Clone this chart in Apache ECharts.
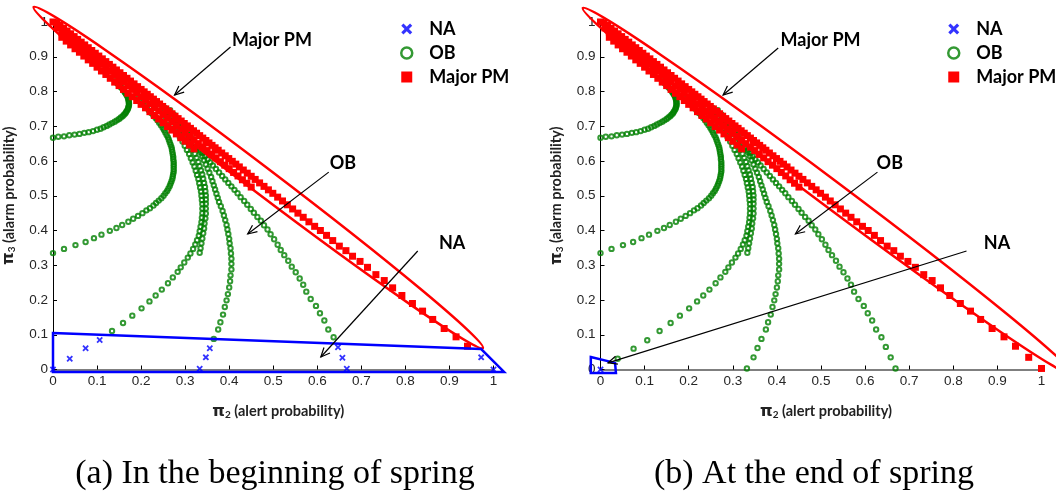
<!DOCTYPE html>
<html><head><meta charset="utf-8">
<script src="https://cdn.jsdelivr.net/npm/echarts@6/dist/echarts.min.js"></script>
<style>html,body{margin:0;padding:0;background:#fff}#c{width:1056px;height:496px}</style>
</head><body><div id="c"></div>
<script>
// ---------------- data ----------------
const captions = ['(a) In the beginning of spring', '(b) At the end of spring'];
const seriesNames = ['NA', 'OB', 'Major PM'];

// NA points
const naA = [[0,1],[0,0],[0.038,0.031],[0.074,0.061],[0.106,0.085],[0.333,0.002],[0.347,0.035],[0.356,0.061],
  [0.647,0.064],[0.657,0.034],[0.667,0.002],[0.972,0.035],[1.0,0.0]];
const naB = [[0,1],[0,0]];

// OB trajectories (shared by both panels)
const ob1 = [[0,0.667],[0.012,0.670],[0.025,0.671],[0.037,0.674],[0.049,0.676],[0.060,0.678],[0.071,0.681],[0.081,0.683],
  [0.091,0.686],[0.100,0.690],[0.108,0.693],[0.115,0.697],[0.122,0.701],[0.128,0.705],[0.134,0.709],[0.140,0.713],
  [0.145,0.717],[0.150,0.721],[0.154,0.725],[0.158,0.729],[0.161,0.733],[0.164,0.737],[0.166,0.741],[0.168,0.745],
  [0.170,0.750],[0.171,0.754],[0.172,0.758],[0.1725,0.762],[0.1725,0.766],[0.172,0.770],[0.172,0.774],[0.171,0.778],
  [0.170,0.782],[0.169,0.786],[0.167,0.790],[0.165,0.794],[0.163,0.798],[0.161,0.802],[0.159,0.806],[0.156,0.810],
  [0.153,0.814],[0.150,0.818],[0.147,0.822],[0.144,0.826],[0.141,0.830]];
const ob2 = [[0,0.335],[0.025,0.347],[0.051,0.358],[0.074,0.367],[0.093,0.378],[0.110,0.388],[0.129,0.399],[0.144,0.407],
  [0.157,0.416],[0.171,0.425],[0.182,0.434],[0.193,0.442],[0.203,0.450],[0.212,0.458],[0.220,0.464],[0.228,0.472],
  [0.234,0.479],[0.240,0.486],[0.246,0.493],[0.251,0.500],[0.255,0.507],[0.259,0.514],[0.262,0.521],[0.265,0.528],
  [0.267,0.535],[0.269,0.542],[0.271,0.549],[0.272,0.556],[0.273,0.563],[0.274,0.570],[0.274,0.577],[0.274,0.584],
  [0.274,0.591],[0.274,0.598],[0.273,0.605],[0.273,0.612],[0.272,0.619],[0.271,0.626],[0.270,0.633],[0.269,0.640],
  [0.267,0.647],[0.265,0.654],[0.263,0.661],[0.261,0.668],[0.258,0.675],[0.255,0.682],[0.252,0.689],[0.249,0.696],
  [0.245,0.703],[0.241,0.710],[0.237,0.717],[0.233,0.724],[0.228,0.731],[0.223,0.738],[0.218,0.745],[0.213,0.752],
  [0.208,0.759],[0.203,0.766],[0.198,0.773],[0.193,0.780]];
const ob3 = [[0.134,0.111],[0.159,0.134],[0.180,0.155],[0.201,0.176],[0.219,0.196],[0.233,0.213],[0.247,0.230],
  [0.261,0.248],[0.272,0.265],[0.283,0.281],[0.290,0.294],[0.298,0.308],[0.306,0.322],[0.312,0.334],[0.318,0.347],
  [0.323,0.360],[0.327,0.372],[0.331,0.385],[0.333,0.398],[0.335,0.411],[0.337,0.424],[0.338,0.437],[0.339,0.450],
  [0.339,0.463],[0.339,0.476],[0.338,0.488],[0.337,0.500],[0.336,0.512],[0.334,0.524],[0.332,0.536],[0.330,0.548],
  [0.327,0.560],[0.324,0.572],[0.321,0.584],[0.317,0.596],[0.313,0.608],[0.309,0.620],[0.304,0.632],[0.299,0.644],
  [0.294,0.656],[0.288,0.668],[0.282,0.680],[0.276,0.692],[0.269,0.704],[0.262,0.716],[0.255,0.728],[0.248,0.740],
  [0.241,0.752],[0.234,0.764]];
const ob4 = [[0.333,0.336],[0.335,0.349],[0.337,0.363],[0.339,0.377],[0.341,0.392],[0.343,0.406],[0.344,0.420],
  [0.346,0.435],[0.347,0.449],[0.347,0.463],[0.347,0.477],[0.347,0.489],[0.347,0.501],[0.346,0.513],[0.345,0.525],
  [0.343,0.537],[0.341,0.549],[0.339,0.561],[0.336,0.573],[0.333,0.585],[0.330,0.597],[0.326,0.609],[0.322,0.621],
  [0.317,0.633],[0.312,0.645],[0.307,0.657],[0.301,0.669],[0.295,0.681],[0.289,0.693],[0.282,0.705],[0.275,0.717],
  [0.268,0.729],[0.261,0.741],[0.254,0.753]];
const ob5 = [[0.365,0.088],[0.375,0.115],[0.380,0.136],[0.386,0.158],[0.390,0.180],[0.394,0.199],[0.397,0.217],
  [0.400,0.236],[0.402,0.254],[0.403,0.271],[0.405,0.288],[0.405,0.304],[0.405,0.319],[0.404,0.334],[0.403,0.349],
  [0.401,0.363],[0.400,0.376],[0.398,0.390],[0.396,0.403],[0.394,0.416],[0.391,0.430],[0.388,0.443],[0.385,0.456],
  [0.381,0.470],[0.377,0.482],[0.374,0.494],[0.371,0.506],[0.368,0.518],[0.365,0.530],[0.362,0.542],[0.359,0.554],
  [0.355,0.566],[0.351,0.578],[0.347,0.590],[0.343,0.602],[0.339,0.614],[0.334,0.626],[0.329,0.638],[0.324,0.650],
  [0.318,0.662],[0.312,0.674],[0.305,0.686],[0.298,0.698],[0.290,0.710],[0.282,0.722],[0.274,0.734],[0.266,0.746]];
const ob6 = [[0.637,0.093],[0.625,0.115],[0.616,0.141],[0.606,0.162],[0.597,0.183],[0.585,0.203],[0.575,0.224],
  [0.568,0.244],[0.560,0.262],[0.551,0.280],[0.542,0.296],[0.534,0.313],[0.525,0.329],[0.517,0.344],[0.510,0.359],
  [0.502,0.375],[0.494,0.389],[0.487,0.403],[0.479,0.415],[0.472,0.428],[0.464,0.439],[0.456,0.451],[0.449,0.462],
  [0.441,0.474],[0.434,0.485],[0.426,0.496],[0.419,0.507],[0.412,0.517],[0.405,0.527],[0.398,0.537],[0.391,0.547],
  [0.384,0.557],[0.377,0.567],[0.370,0.577],[0.363,0.587],[0.357,0.596],[0.351,0.605],[0.345,0.614],[0.339,0.623],
  [0.333,0.632],[0.327,0.641],[0.321,0.650],[0.315,0.659],[0.309,0.668],[0.303,0.677],[0.297,0.685],[0.291,0.693],
  [0.285,0.701],[0.279,0.709],[0.273,0.717],[0.267,0.725],[0.261,0.733]];
// extra OB starting points that appear only in panel (b)
const ob3StartB = [[0.039,0.031],[0.075,0.060],[0.106,0.084]];
const ob5StartB = [[0.332,0.003],[0.347,0.035],[0.356,0.062]];
const ob6StartB = [[0.669,0.003],[0.658,0.035],[0.647,0.065]];

// Major PM tracks
const pmMain = [[0.941,0.067],[0.915,0.094],[0.888,0.118],[0.862,0.144],[0.839,0.168],[0.816,0.190],[0.792,0.213],
  [0.771,0.235],[0.752,0.256],[0.733,0.273],[0.714,0.294],[0.697,0.311],[0.680,0.326],[0.665,0.342],[0.650,0.355],
  [0.635,0.371],[0.621,0.386],[0.607,0.400],[0.594,0.412],[0.581,0.425],[0.568,0.438],[0.556,0.450],[0.544,0.462],
  [0.532,0.474],[0.521,0.485],[0.510,0.496],[0.499,0.507],[0.489,0.517],[0.479,0.527],[0.469,0.537],[0.459,0.547],
  [0.450,0.556],[0.441,0.565],[0.432,0.574],[0.423,0.583],[0.415,0.591],[0.407,0.599],[0.399,0.607],[0.391,0.615],
  [0.383,0.623],[0.375,0.631],[0.368,0.638],[0.361,0.645],[0.354,0.652],[0.347,0.659],[0.340,0.666],[0.333,0.673],
  [0.326,0.680],[0.319,0.687],[0.312,0.694],[0.305,0.701],[0.298,0.708],[0.291,0.715],[0.284,0.722],[0.277,0.729],
  [0.270,0.736],[0.263,0.743],[0.256,0.750],[0.249,0.757],[0.242,0.764],[0.235,0.771],[0.228,0.778],[0.221,0.785],
  [0.214,0.792],[0.207,0.799],[0.200,0.806],[0.192,0.814],[0.184,0.822],[0.176,0.830],[0.168,0.838],[0.160,0.846],
  [0.152,0.854],[0.144,0.862],[0.136,0.870],[0.128,0.878],[0.120,0.886],[0.112,0.894],[0.104,0.902],[0.096,0.910],
  [0.088,0.918],[0.080,0.926],[0.072,0.934],[0.064,0.942],[0.056,0.950],[0.048,0.958],[0.040,0.966],[0.032,0.974],
  [0.024,0.982],[0.016,0.990],[0.008,0.998],[0,1.0]];
const pmInner1 = [[0.450,0.525],[0.440,0.536],[0.430,0.546],[0.420,0.557],[0.410,0.567],[0.400,0.578],[0.390,0.588],
  [0.380,0.598],[0.370,0.609],[0.360,0.619],[0.350,0.630],[0.340,0.640],[0.330,0.650],[0.320,0.661],[0.310,0.671],
  [0.300,0.682],[0.290,0.692],[0.280,0.702],[0.270,0.713],[0.260,0.723],[0.250,0.734],[0.240,0.744],[0.230,0.754],
  [0.220,0.765],[0.210,0.775],[0.200,0.785],[0.190,0.796],[0.180,0.806],[0.170,0.816],[0.160,0.827],[0.150,0.837],
  [0.140,0.847],[0.130,0.858],[0.120,0.868],[0.110,0.878],[0.100,0.889],[0.090,0.899],[0.080,0.909],[0.070,0.919],
  [0.060,0.930],[0.050,0.940],[0.040,0.950],[0.030,0.961],[0.020,0.971],[0.010,0.983]];
const pmInner2 = [[0.320,0.635],[0.310,0.646],[0.300,0.657],[0.290,0.667],[0.280,0.678],[0.270,0.689],[0.260,0.699],
  [0.250,0.710],[0.240,0.721],[0.230,0.731],[0.220,0.742],[0.210,0.753],[0.200,0.763],[0.190,0.774],[0.180,0.785],
  [0.170,0.795],[0.160,0.806],[0.150,0.817],[0.140,0.827],[0.130,0.838],[0.120,0.849],[0.110,0.859],[0.100,0.870],
  [0.090,0.881],[0.080,0.891],[0.070,0.902],[0.060,0.913],[0.050,0.923],[0.040,0.934],[0.030,0.945],[0.020,0.956]];
const pmTailB = [[1.0,0.003],[0.971,0.035]];

// ---------------- annotations (data coordinates) ----------------
const annotA = {
  tips: [[-0.044, 1.043], [0.976, 0.062]],
  box: [[0, 0.105], [0.972, 0.059], [1.024, -0.007], [0, -0.007]],
  arrows: [
    {text: 'Major PM', label: [0.497, 0.948], from: [0.403, 0.928], to: [0.276, 0.79]},
    {text: 'OB', label: [0.658, 0.594], from: [0.626, 0.568], to: [0.442, 0.39]},
    {text: 'NA', label: [0.906, 0.364], from: [0.828, 0.341], to: [0.608, 0.036]}
  ]
};
const annotB = {
  tips: [[-0.040, 1.04], [1.072, -0.016]],
  box: [[-0.022, 0.036], [0.033, 0.019], [0.035, -0.01], [-0.022, -0.01]],
  arrows: [
    {text: 'Major PM', label: [0.499, 0.948], from: [0.403, 0.925], to: [0.278, 0.79]},
    {text: 'OB', label: [0.656, 0.594], from: [0.628, 0.568], to: [0.442, 0.39]},
    {text: 'NA', label: [0.899, 0.364], from: [0.830, 0.341], to: [0.017, 0.019]}
  ]
};

// ---------------- styling ----------------
const BLUE = '#0000ff', GREEN = '#008000', RED = '#ff0000';
const crossPath = 'path://M0,2L2,0L5,3L8,0L10,2L7,5L10,8L8,10L5,7L2,10L0,8L3,5Z';
const labelFont = 'Lato';

const chart = echarts.init(document.getElementById('c'), null, {renderer: 'canvas'});

function naSeries(gi, data) {
  return {type: 'scatter', name: 'NA', xAxisIndex: gi, yAxisIndex: gi, data: data, symbol: crossPath,
    symbolSize: 6.5, itemStyle: {color: BLUE}, z: 2, silent: true};
}
function obSeries(gi, data) {
  return {type: 'scatter', name: 'OB', xAxisIndex: gi, yAxisIndex: gi, data: data, symbol: 'circle',
    symbolSize: 4.4, itemStyle: {color: 'rgba(255,255,255,0)', borderColor: GREEN, borderWidth: 2}, z: 3, silent: true};
}
function pmSeries(gi, data) {
  return {type: 'scatter', name: 'Major PM', xAxisIndex: gi, yAxisIndex: gi, data: data, symbol: 'rect',
    symbolSize: 7, itemStyle: {color: RED, opacity: 1}, z: 4, silent: true};
}

function axisPair(gi) {
  const tick = {fontFamily: 'Liberation Sans', fontSize: 13.5, color: '#262626'};
  const rich = {
    p: {fontFamily: 'DejaVu Sans', fontWeight: 'bold', fontSize: 16, color: '#222'},
    s: {fontFamily: labelFont, fontWeight: 'bold', fontSize: 10, color: '#222', verticalAlign: 'bottom'},
    t: {fontFamily: labelFont, fontWeight: 'bold', fontSize: 14.5, color: '#222'}
  };
  return {
    x: {gridIndex: gi, type: 'value', min: 0, max: 1, interval: 0.1,
      name: '{p|π}{s|2}{t| (alert probability)}', nameLocation: 'middle', nameGap: 34,
      nameTextStyle: {rich: rich, padding: [0, 0, 0, 10]},
      axisLine: {show: true, onZero: false, lineStyle: {color: '#7f7f7f', width: 2}},
      axisTick: {show: true, inside: true, length: 4, lineStyle: {color: '#000'}},
      axisLabel: Object.assign({margin: 5}, tick), splitLine: {show: false}},
    y: {gridIndex: gi, type: 'value', min: 0, max: 1, interval: 0.1,
      name: '{p|π}{s|3}{t| (alarm probability)}', nameLocation: 'middle', nameGap: 36, nameRotate: 90,
      nameTextStyle: {rich: rich},
      axisLine: {show: true, onZero: false, lineStyle: {color: '#000', width: 1}},
      axisTick: {show: true, inside: true, length: 4, lineStyle: {color: '#000'}},
      axisLabel: Object.assign({margin: 5}, tick), splitLine: {show: false}}
  };
}
const axA = axisPair(0), axB = axisPair(1);

function legendFor(left) {
  return {left: left, top: 15, orient: 'vertical', itemWidth: 11, itemHeight: 11, itemGap: 6,
    selectedMode: false,
    textStyle: {fontFamily: labelFont, fontWeight: 'bold', fontSize: 18, color: '#000', lineHeight: 17, padding: [0, 0, 0, 12]},
    data: [
      {name: 'NA', icon: crossPath, itemStyle: {color: BLUE}},
      {name: 'OB', icon: 'circle', itemStyle: {color: '#fff', borderColor: GREEN, borderWidth: 2.5}},
      {name: 'Major PM', icon: 'rect', itemStyle: {color: RED}}
    ]};
}

const option = {
  animation: false,
  backgroundColor: '#fff',
  title: [
    {text: captions[0], left: 270, top: 452, textAlign: 'center',
      textStyle: {fontFamily: 'Liberation Serif', fontWeight: 'normal', fontSize: 34, color: '#000'}},
    {text: captions[1], left: 809, top: 452, textAlign: 'center',
      textStyle: {fontFamily: 'Liberation Serif', fontWeight: 'normal', fontSize: 34, color: '#000'}}
  ],
  legend: [legendFor(395), legendFor(942)],
  grid: [
    {left: 52.5, top: 22, width: 441, height: 347.5},
    {left: 600.5, top: 22, width: 441, height: 347.5}
  ],
  xAxis: [axA.x, axB.x],
  yAxis: [axA.y, axB.y],
  series: [
    naSeries(0, naA),
    obSeries(0, ob1), obSeries(0, ob2), obSeries(0, ob3), obSeries(0, ob4), obSeries(0, ob5), obSeries(0, ob6),
    pmSeries(0, pmMain), pmSeries(0, pmInner1), pmSeries(0, pmInner2),
    naSeries(1, naB),
    obSeries(1, ob1), obSeries(1, ob2), obSeries(1, ob3StartB.concat(ob3)), obSeries(1, ob4),
    obSeries(1, ob5StartB.concat(ob5)), obSeries(1, ob6StartB.concat(ob6)),
    pmSeries(1, pmTailB.concat(pmMain)), pmSeries(1, pmInner1), pmSeries(1, pmInner2)
  ]
};
chart.setOption(option);

function annotations(gi, A) {
  const P = p => chart.convertToPixel({gridIndex: gi}, p);
  const els = [];
  const a = P(A.tips[0]), b = P(A.tips[1]);
  const cx = (a[0] + b[0]) / 2, cy = (a[1] + b[1]) / 2;
  const ang = Math.atan2(b[1] - a[1], b[0] - a[0]);
  const rx = Math.hypot(b[0] - a[0], b[1] - a[1]) / 2;
  els.push({type: 'ellipse', x: cx, y: cy, rotation: -ang, shape: {cx: 0, cy: 0, rx: rx, ry: 13},
    style: {fill: null, stroke: RED, lineWidth: 2.5}, z: 100, silent: true});
  els.push({type: 'polygon', shape: {points: A.box.map(P)},
    style: {fill: null, stroke: BLUE, lineWidth: 2.5}, z: 100, silent: true});
  A.arrows.forEach(ar => {
    const s = P(ar.from), t = P(ar.to);
    const an = Math.atan2(t[1] - s[1], t[0] - s[0]);
    const L = 10, w = 0.42;
    const h1 = [t[0] - L * Math.cos(an - w), t[1] - L * Math.sin(an - w)];
    const h2 = [t[0] - L * Math.cos(an + w), t[1] - L * Math.sin(an + w)];
    els.push({type: 'line', shape: {x1: s[0], y1: s[1], x2: t[0], y2: t[1]},
      style: {stroke: '#000', lineWidth: 1.2}, z: 100, silent: true});
    els.push({type: 'polyline', shape: {points: [h1, t, h2]},
      style: {stroke: '#000', lineWidth: 1.2, fill: null}, z: 100, silent: true});
    const lp = P(ar.label);
    els.push({type: 'text', x: lp[0], y: lp[1], z: 100, silent: true,
      style: {text: ar.text, fontFamily: labelFont, fontWeight: 'bold', fontSize: 18, fill: '#000',
        align: 'center', verticalAlign: 'middle'}});
  });
  return els;
}
chart.setOption({graphic: annotations(0, annotA).concat(annotations(1, annotB))});
</script>
</body></html>
